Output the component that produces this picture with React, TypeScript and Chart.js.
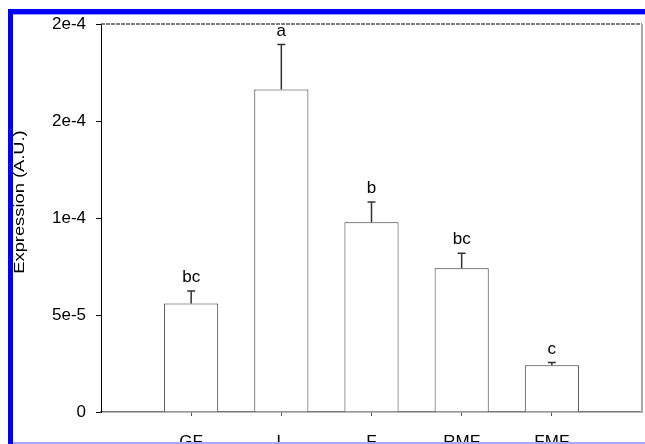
import React, { useEffect, useRef } from 'react';
import { Chart, registerables } from 'chart.js';

Chart.register(...registerables);

const categories = ['', 'GF', 'L', 'F', 'RMF', 'FMF', ''];
const means = [null, 5.59e-5, 1.663e-4, 9.78e-5, 7.41e-5, 2.41e-5, null];
const errors = [null, 0.65e-5, 2.31e-5, 1.04e-5, 0.77e-5, 0.14e-5, null];
const groupLetters = ['', 'bc', 'a', 'b', 'bc', 'c', ''];
const yTickValues = [0, 5e-5, 1e-4, 1.5e-4, 2e-4];
const yTickLabels = ['0', '5e-5', '1e-4', '2e-4', '2e-4'];
const yAxisTitle = 'Expression (A.U.)';

const FONT = "'Liberation Sans', Arial, sans-serif";

const overlay = {
  id: 'overlay',
  afterDatasetsDraw(chart: any) {
    const { ctx, chartArea: a, scales } = chart;
    const x = scales.x;
    const y = scales.y;
    ctx.save();
    // top frame line (dashed)
    ctx.strokeStyle = '#555';
    ctx.lineWidth = 1.5;
    ctx.setLineDash([4, 1]);
    ctx.beginPath();
    ctx.moveTo(a.left, a.top);
    ctx.lineTo(a.right, a.top);
    ctx.stroke();
    ctx.setLineDash([]);
    // right frame line
    ctx.strokeStyle = '#a8a8a8';
    ctx.lineWidth = 2;
    ctx.beginPath();
    ctx.moveTo(a.right, a.top);
    ctx.lineTo(a.right, a.bottom);
    ctx.stroke();
    // error bars and letters
    for (let i = 0; i < means.length; i++) {
      const m = means[i];
      const e = errors[i];
      if (m == null || e == null) continue;
      const px = x.getPixelForValue(i);
      const y0 = y.getPixelForValue(m);
      const y1 = y.getPixelForValue(m + e);
      ctx.strokeStyle = '#333';
      ctx.lineWidth = 1.5;
      ctx.beginPath();
      ctx.moveTo(px, y0);
      ctx.lineTo(px, y1);
      ctx.moveTo(px - 4, y1);
      ctx.lineTo(px + 4, y1);
      ctx.stroke();
      ctx.fillStyle = '#000';
      ctx.font = `17px ${FONT}`;
      ctx.textAlign = 'center';
      ctx.textBaseline = 'alphabetic';
      ctx.fillText(groupLetters[i], px, y1 - 9);
    }
    // y axis title
    ctx.translate(20, (a.top + a.bottom) / 2 - 16);
    ctx.rotate(-Math.PI / 2);
    ctx.scale(1.22, 1);
    ctx.font = `15px ${FONT}`;
    ctx.fillStyle = '#000';
    ctx.textAlign = 'center';
    ctx.textBaseline = 'middle';
    ctx.fillText(yAxisTitle, 0, 0);
    ctx.restore();
  },
};

export default function App() {
  const ref = useRef<HTMLCanvasElement>(null);

  useEffect(() => {
    if (!ref.current) return;
    const chart = new Chart(ref.current, {
      type: 'bar',
      data: {
        labels: categories,
        datasets: [
          {
            data: means as any,
            backgroundColor: '#ffffff',
            borderColor: '#333',
            borderWidth: 1,
            barPercentage: 0.6,
            categoryPercentage: 1,
          },
        ],
      },
      options: {
        responsive: false,
        animation: false,
        devicePixelRatio: 1,
        layout: { padding: { top: 24, right: 3, bottom: 0, left: 0 } },
        plugins: { legend: { display: false }, tooltip: { enabled: false } },
        scales: {
          x: {
            type: 'category',
            offset: false,
            grid: {
              display: true,
              offset: false,
              drawOnChartArea: false,
              drawTicks: true,
              tickLength: 4,
              tickColor: (c: any) => (c.index === 0 || c.index === categories.length - 1 ? 'rgba(0,0,0,0)' : '#555'),
            },
            border: { display: true, color: '#777', width: 1.5, dash: [4, 1] },
            ticks: {
              color: '#000',
              font: { family: FONT, size: 17 },
              padding: 16,
              maxRotation: 0,
              autoSkip: false,
            },
            afterFit: (s: any) => {
              s.height = 58;
              s.paddingLeft = 0;
              s.paddingRight = 0;
            },
          },
          y: {
            type: 'linear',
            min: 0,
            max: 2e-4,
            grid: {
              display: true,
              drawOnChartArea: false,
              drawTicks: true,
              tickLength: 5,
              tickColor: '#000',
            },
            border: { display: true, color: '#000', width: 1 },
            afterBuildTicks: (s: any) => {
              s.ticks = yTickValues.map((v) => ({ value: v }));
            },
            ticks: {
              color: '#000',
              font: { family: FONT, size: 17 },
              padding: 10,
              callback: (_v: any, i: number) => yTickLabels[i],
            },
            afterFit: (s: any) => {
              s.width = 101;
            },
          },
        },
      },
      plugins: [overlay],
    });
    return () => chart.destroy();
  }, []);

  return (
    <div
      style={{
        position: 'fixed',
        left: 0,
        top: 0,
        width: 645,
        height: 444,
        overflow: 'hidden',
        background: '#fff',
      }}
    >
      <canvas
        ref={ref}
        width={645}
        height={470}
        style={{ position: 'absolute', left: 0, top: 0, width: 645, height: 470 }}
      />
      <div style={{ position: 'absolute', left: 8, top: 9, width: 637, height: 5, background: '#0000ff' }} />
      <div style={{ position: 'absolute', left: 13, top: 14, width: 632, height: 1, background: '#9d9dff' }} />
      <div style={{ position: 'absolute', left: 8, top: 9, width: 5, height: 435, background: '#0000ff' }} />
      <div style={{ position: 'absolute', left: 13, top: 442, width: 632, height: 2, background: '#a8a8ff' }} />
    </div>
  );
}
